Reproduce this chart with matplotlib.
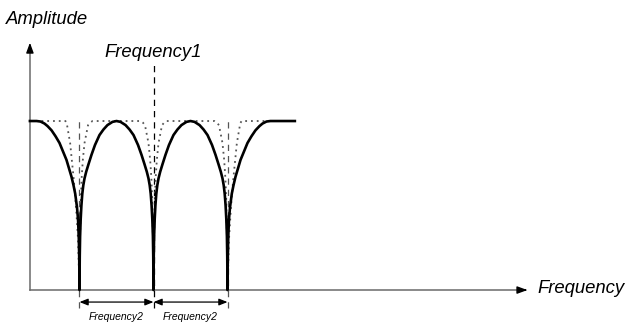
import matplotlib
matplotlib.use("Agg")
import numpy as np
from matplotlib import pyplot as plt

plt.rcParams["font.family"] = ["Liberation Sans", "DejaVu Sans"]

# notch centres, in units of the notch spacing (Frequency2)
notches = [1.0, 2.0, 3.0]
curve_start = 0.33
curve_end = 3.91

# half-profiles of one notch: offset from centre (fraction of spacing) -> amplitude
# "inner" = side facing a neighbouring notch, "outer" = side running out to the flat part
solid_in_off = [0.0, 0.0034, 0.0081, 0.0162, 0.0257, 0.0378, 0.0514, 0.0676, 0.0905,
                0.122, 0.162, 0.209, 0.27, 0.324, 0.378, 0.446, 0.50]
solid_in_amp = [0.0, 0.20, 0.32, 0.42, 0.50, 0.57, 0.62, 0.66, 0.70,
                0.745, 0.80, 0.858, 0.917, 0.95, 0.976, 0.995, 1.0]
solid_out_off = [0.0, 0.0034, 0.009, 0.02, 0.034, 0.058, 0.081, 0.108, 0.142, 0.176,
                 0.223, 0.27, 0.324, 0.378, 0.432, 0.473, 0.527, 0.58]
solid_out_amp = [0.0, 0.18, 0.30, 0.42, 0.49, 0.57, 0.62, 0.67, 0.72, 0.77,
                 0.82, 0.87, 0.91, 0.945, 0.97, 0.985, 0.997, 1.0]

dot_in_off = [0.0, 0.007, 0.018, 0.03, 0.045, 0.068, 0.115, 0.142, 0.176, 0.50]
dot_in_amp = [0.0, 0.30, 0.55, 0.67, 0.77, 0.87, 0.975, 0.99, 1.0, 1.0]
dot_out_off = [0.0, 0.02, 0.041, 0.061, 0.081, 0.104, 0.126, 0.172, 0.19, 0.58]
dot_out_amp = [0.0, 0.30, 0.45, 0.57, 0.67, 0.77, 0.868, 0.986, 1.0, 1.0]

freq1_top = 1.35
axis_x_end = 7.09
axis_y_end = 1.48


def build(off_in, amp_in, off_out, amp_out):
    oi, ai = np.array(off_in), np.array(amp_in)
    oo, ao = np.array(off_out), np.array(amp_out)
    xs = [curve_start]
    ys = [1.0]
    for k, n in enumerate(notches):
        lo, la = (oo, ao) if k == 0 else (oi, ai)
        ro, ra = (oo, ao) if k == len(notches) - 1 else (oi, ai)
        xs += list(n - lo[::-1]) + list(n + ro[1:])
        ys += list(la[::-1]) + list(ra[1:])
    xs.append(curve_end)
    ys.append(1.0)
    return np.array(xs), np.array(ys)


fig = plt.figure(figsize=(6.28, 3.22), dpi=100)
ax = fig.add_axes([0, 0, 1, 1])
ax.set_xlim(-0.0743, 8.412)
ax.set_ylim(-0.189, 1.716)
ax.axis("off")

# axes
ax.plot([curve_start, axis_x_end - 0.1], [0, 0], color="#6a6a6a", lw=1.1, zorder=1)
ax.plot([curve_start, curve_start], [0, axis_y_end - 0.05], color="#6a6a6a", lw=1.1, zorder=1)
ax.annotate("", xy=(axis_x_end, 0), xytext=(axis_x_end - 0.12, 0),
            arrowprops=dict(arrowstyle="-|>,head_length=0.6,head_width=0.22", color="black", lw=1))
ax.annotate("", xy=(curve_start, axis_y_end), xytext=(curve_start, axis_y_end - 0.06),
            arrowprops=dict(arrowstyle="-|>,head_length=0.6,head_width=0.22", color="black", lw=1))

# dashed markers at the notches
for n in notches:
    top = freq1_top if n == 2.0 else 1.0
    ax.plot([n, n], [-0.107, top], color="#555555" if n != 2.0 else "black",
            lw=0.9, ls=(0, (5, 4)), zorder=2)

xd, yd = build(dot_in_off, dot_in_amp, dot_out_off, dot_out_amp)
ax.plot(xd, yd, color="#555555", lw=1.3, ls=(0, (1, 2.2)), zorder=3)
xs, ys = build(solid_in_off, solid_in_amp, solid_out_off, solid_out_amp)
ax.plot(xs, ys, color="black", lw=1.9, zorder=4, solid_joinstyle="round")

# spacing arrows
for a, b in zip(notches[:-1], notches[1:]):
    ax.annotate("", xy=(a, -0.071), xytext=(b, -0.071),
                arrowprops=dict(arrowstyle="<|-|>,head_length=0.5,head_width=0.2",
                                color="black", lw=0.9, shrinkA=0, shrinkB=0))
    ax.text((a + b) / 2, -0.178, "Frequency2", fontsize=7.5, style="italic",
            ha="center", va="baseline")

ax.text(2.0, 1.378, "Frequency1", fontsize=13.3, style="italic", ha="center", va="baseline")
ax.text(0.01, 1.60, "Amplitude", fontsize=13.3, style="italic", ha="left", va="center")
ax.text(axis_x_end + 0.1, 0.01, "Frequency", fontsize=13.3, style="italic", ha="left", va="center")

fig.savefig("out.png", dpi=100)
